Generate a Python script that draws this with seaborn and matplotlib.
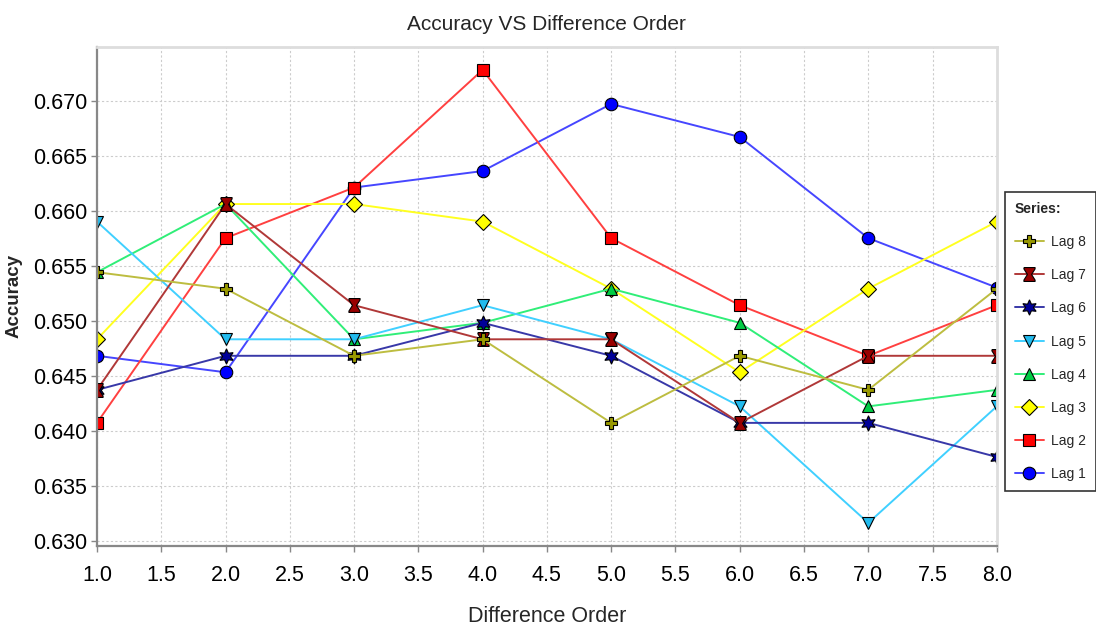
import pandas as pd
import matplotlib.pyplot as plt
import seaborn as sns
from matplotlib.ticker import FormatStrFormatter, MultipleLocator

# Data
orders = [1, 2, 3, 4, 5, 6, 7, 8]
lag1 = [0.6468, 0.6453, 0.6621, 0.6636, 0.6697, 0.6667, 0.6575, 0.6530]
lag2 = [0.6407, 0.6575, 0.6621, 0.6728, 0.6575, 0.6514, 0.6468, 0.6514]
lag3 = [0.6483, 0.6606, 0.6606, 0.6590, 0.6529, 0.6453, 0.6529, 0.6590]
lag4 = [0.6544, 0.6606, 0.6483, 0.6498, 0.6529, 0.6498, 0.6422, 0.6437]
lag5 = [0.6590, 0.6483, 0.6483, 0.6514, 0.6483, 0.6422, 0.6316, 0.6422]
lag6 = [0.6437, 0.6468, 0.6468, 0.6498, 0.6468, 0.6407, 0.6407, 0.6376]
lag7 = [0.6437, 0.6606, 0.6514, 0.6483, 0.6483, 0.6407, 0.6468, 0.6468]
lag8 = [0.6544, 0.6529, 0.6468, 0.6483, 0.6407, 0.6468, 0.6437, 0.6529]

series_names = ["Lag 1", "Lag 2", "Lag 3", "Lag 4", "Lag 5", "Lag 6", "Lag 7", "Lag 8"]
series_values = [lag1, lag2, lag3, lag4, lag5, lag6, lag7, lag8]

rows = []
for name, vals in zip(series_names, series_values):
    for x, v in zip(orders, vals):
        rows.append({"Difference Order": x, "Accuracy": v, "Series": name})
df = pd.DataFrame(rows)

line_colors = {
    "Lag 1": "#4646FF", "Lag 2": "#FF4040", "Lag 3": "#FFFF20", "Lag 4": "#30EE78",
    "Lag 5": "#40D0FF", "Lag 6": "#3838A8", "Lag 7": "#B03838", "Lag 8": "#BDBD40",
}
face_colors = {
    "Lag 1": "#0000FF", "Lag 2": "#FF0000", "Lag 3": "#FFFF00", "Lag 4": "#00CC44",
    "Lag 5": "#22BBEE", "Lag 6": "#000099", "Lag 7": "#990000", "Lag 8": "#999900",
}
# vertical hourglass shape for Lag 7
hourglass = [(-0.8, 1), (0.8, 1), (0.8, 0.8), (0.3, 0), (0.8, -0.8), (0.8, -1),
             (-0.8, -1), (-0.8, -0.8), (-0.3, 0), (-0.8, 0.8), (-0.8, 1)]
markers = {
    "Lag 1": "o", "Lag 2": "s", "Lag 3": "D", "Lag 4": "^",
    "Lag 5": "v", "Lag 6": (6, 1, 0), "Lag 7": hourglass, "Lag 8": "P",
}
marker_sizes = {"Lag 1": 9, "Lag 2": 9, "Lag 3": 8, "Lag 4": 9,
                "Lag 5": 9, "Lag 6": 11, "Lag 7": 10, "Lag 8": 9}

sns.set_theme(style="white")
plt.rcParams["font.family"] = ["Liberation Sans", "DejaVu Sans"]

fig = plt.figure(figsize=(10.96, 6.32), dpi=100)
ax = fig.add_axes([0.0885, 0.136, 0.821, 0.79])

sns.lineplot(data=df, x="Difference Order", y="Accuracy", hue="Series",
             hue_order=series_names, palette=line_colors, style="Series",
             style_order=series_names, markers=markers, dashes=False,
             linewidth=1.4, markeredgecolor="black", markeredgewidth=0.8,
             legend=False, ax=ax)

for line, name in zip(ax.lines, series_names):
    line.set_markerfacecolor(face_colors[name])
    line.set_markersize(marker_sizes[name])

ax.set_xlim(1, 8)
ax.set_ylim(0.6295, 0.6749)
ax.xaxis.set_major_locator(MultipleLocator(0.5))
ax.yaxis.set_major_locator(MultipleLocator(0.005))
ax.xaxis.set_major_formatter(FormatStrFormatter("%.1f"))
ax.yaxis.set_major_formatter(FormatStrFormatter("%.3f"))
ax.tick_params(axis="both", labelsize=15.5, colors="black", length=4,
               width=1, direction="out", bottom=True, left=True, pad=3)
ax.tick_params(axis="x", pad=10)
ax.tick_params(axis="both", color="#888888")

ax.grid(True, color="#CCCCCC", linestyle=(0, (2, 2)), linewidth=0.8)
for side in ["left", "bottom"]:
    ax.spines[side].set_color("#888888")
    ax.spines[side].set_linewidth(1.6)
for side in ["top", "right"]:
    ax.spines[side].set_color("#DDDDDD")
    ax.spines[side].set_linewidth(2)

ax.set_title("Accuracy VS Difference Order", fontsize=15, pad=12)
ax.set_xlabel("Difference Order", fontsize=15.5, labelpad=14)
ax.set_ylabel("Accuracy", fontsize=13.5, fontweight="bold")
ax.yaxis.set_label_coords(-0.083, 0.5)

# legend outside the plot, reversed order like the original
handles = list(ax.lines[:len(series_names)])[::-1]
labels = series_names[::-1]
leg = fig.legend(handles, labels, title="Series:", loc="upper left",
                 bbox_to_anchor=(0.917, 0.696), fontsize=10, handlelength=2.1,
                 handletextpad=0.5, labelspacing=1.38, frameon=True,
                 fancybox=False, borderpad=0.7, borderaxespad=0,
                 alignment="left")
leg.get_frame().set_edgecolor("black")
leg.get_frame().set_linewidth(1.2)
leg.get_title().set_fontweight("bold")
leg.get_title().set_fontsize(10)

plt.savefig("out.png", dpi=100)
